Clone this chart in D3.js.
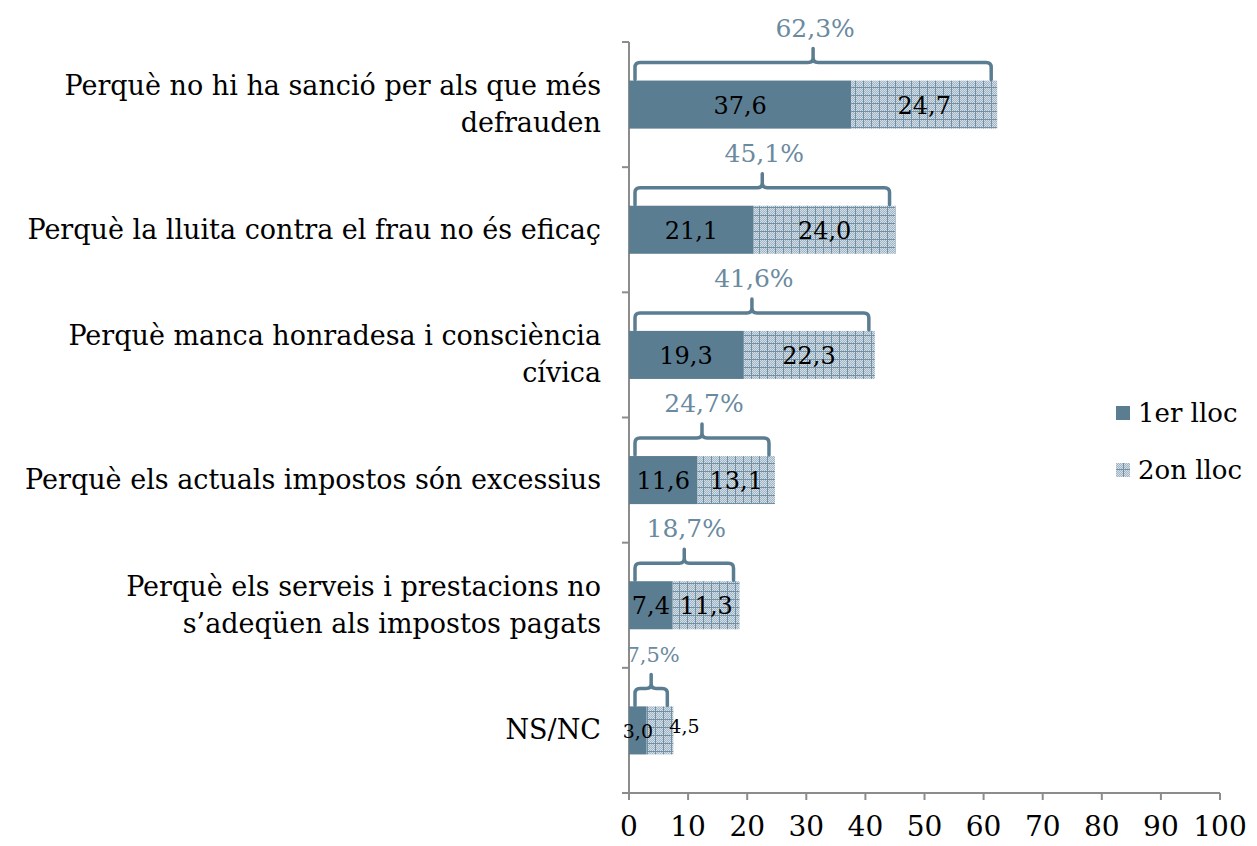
<!DOCTYPE html>
<html>
<head>
<meta charset="utf-8">
<script src="https://cdn.jsdelivr.net/npm/d3@7"></script>
<style>
  body { margin: 0; background: #fff; }
</style>
</head>
<body>
<svg id="chart" width="1257" height="846"></svg>
<script>
// chart data
var categories = [
  ["Perquè no hi ha sanció per als que més", "defrauden"],
  ["Perquè la lluita contra el frau no és eficaç"],
  ["Perquè manca honradesa i consciència", "cívica"],
  ["Perquè els actuals impostos són excessius"],
  ["Perquè els serveis i prestacions no", "s’adeqüen als impostos pagats"],
  ["NS/NC"]
];
var firstPlace = [37.6, 21.1, 19.3, 11.6, 7.4, 3.0];
var secondPlace = [24.7, 24.0, 22.3, 13.1, 11.3, 4.5];
var totals = [62.3, 45.1, 41.6, 24.7, 18.7, 7.5];
var seriesNames = ["1er lloc", "2on lloc"];
var xTicks = [0, 10, 20, 30, 40, 50, 60, 70, 80, 90, 100];

var svg = d3.select("#chart").attr("font-family", "'DejaVu Serif', serif"),
  fmt = function(v) { return v.toFixed(1).replace(".", ","); },
  dark = "#5b7d91",
  labelBlue = "#6a8aa0",
  axisGrey = "#8c8c8c",
  x = d3.scaleLinear().domain([0, 100]).range([629, 1220]),
  y = d3.scaleBand()
    .domain(d3.range(categories.length))
    .range([42, 793])
    .paddingInner(0.616)
    .paddingOuter(0.308),
  defs = svg.append("defs"),
  pat = defs.append("pattern")
    .attr("id", "hatch")
    .attr("patternUnits", "userSpaceOnUse")
    .attr("width", 8)
    .attr("height", 8);

// textured fill for the second series
pat.append("rect").attr("width", 8).attr("height", 8).attr("fill", "#a0b4c3");
d3.range(7).forEach(function(i) {
  d3.range(7).forEach(function(j) {
    if ((i + j) % 2 === 0) {
      pat.append("rect").attr("x", i).attr("y", j).attr("width", 1).attr("height", 1).attr("fill", "#d3dee6");
    }
  });
});
pat.append("rect").attr("x", 7).attr("y", 0).attr("width", 1).attr("height", 8).attr("fill", "#7090a6");
pat.append("rect").attr("x", 0).attr("y", 7).attr("width", 8).attr("height", 1).attr("fill", "#7090a6");

var data = categories.map(function(c, i) {
  return { i: i, label: c, a: firstPlace[i], b: secondPlace[i], total: totals[i] };
});

// axes
var axisG = svg.append("g").attr("stroke", axisGrey).attr("stroke-width", 2).attr("fill", "none");
axisG.append("line").attr("x1", x(0)).attr("x2", x(0)).attr("y1", 42).attr("y2", 793);
axisG.append("line").attr("x1", x(0)).attr("x2", x(100)).attr("y1", 793).attr("y2", 793);
var bounds = d3.range(categories.length + 1).map(function(i) { return 42 + i * y.step(); });
axisG.selectAll(".ytick").data(bounds).enter().append("line")
  .attr("x1", x(0) - 7).attr("x2", x(0)).attr("y1", function(d) { return d; }).attr("y2", function(d) { return d; });
axisG.selectAll(".xtick").data(xTicks).enter().append("line")
  .attr("x1", function(d) { return x(d); }).attr("x2", function(d) { return x(d); })
  .attr("y1", 793).attr("y2", 800);

svg.append("g").selectAll("text").data(xTicks).enter().append("text")
  .attr("x", function(d) { return x(d); })
  .attr("y", 836)
  .attr("text-anchor", "middle")
  .attr("font-size", 28)
  .attr("fill", "#000")
  .text(function(d) { return d; });

// category labels
var catG = svg.append("g");
data.forEach(function(d) {
  var cy = y(d.i) + y.bandwidth() / 2,
    n = d.label.length,
    lh = 37;
  d.label.forEach(function(line, k) {
    catG.append("text")
      .attr("x", 601)
      .attr("y", cy + (k - (n - 1) / 2) * lh + 9)
      .attr("text-anchor", "end")
      .attr("font-size", 27)
      .attr("fill", "#000")
      .text(line);
  });
});

// bars
var bars = svg.append("g");
bars.selectAll(".b1").data(data).enter().append("rect")
  .attr("x", x(0))
  .attr("y", function(d) { return y(d.i); })
  .attr("width", function(d) { return x(d.a) - x(0); })
  .attr("height", y.bandwidth())
  .attr("fill", dark);
bars.selectAll(".b2").data(data).enter().append("rect")
  .attr("x", function(d) { return x(d.a); })
  .attr("y", function(d) { return y(d.i); })
  .attr("width", function(d) { return x(d.a + d.b) - x(d.a); })
  .attr("height", y.bandwidth())
  .attr("fill", "url(#hatch)");

// value labels
data.forEach(function(d) {
  var cy = y(d.i) + y.bandwidth() / 2,
    small = d.a < 5;
  bars.append("text")
    .attr("x", (x(0) + x(d.a)) / 2)
    .attr("y", cy + (small ? 8 : 9))
    .attr("text-anchor", "middle")
    .attr("font-size", small ? 19 : 24)
    .attr("fill", "#000")
    .text(fmt(d.a));
  bars.append("text")
    .attr("x", small ? x(d.a + d.b) - 4 : (x(d.a) + x(d.a + d.b)) / 2)
    .attr("y", cy + (small ? 3 : 9))
    .attr("text-anchor", small ? "start" : "middle")
    .attr("font-size", small ? 19 : 24)
    .attr("fill", "#000")
    .text(fmt(d.b));
});

// curly brackets with totals
var brG = svg.append("g");
data.forEach(function(d) {
  var top = y(d.i),
    x0 = x(0) + 6,
    x1 = x(d.a + d.b) - 6,
    xm = x(d.total / 2),
    hy = top - 18,
    r = 5,
    path = d3.path();
  path.moveTo(x0, top - 1);
  path.lineTo(x0, hy + r);
  path.quadraticCurveTo(x0, hy, x0 + r, hy);
  path.lineTo(xm - r, hy);
  path.quadraticCurveTo(xm, hy, xm, hy - r);
  path.lineTo(xm, top - 32);
  path.moveTo(xm, hy - r);
  path.quadraticCurveTo(xm, hy, xm + r, hy);
  path.lineTo(x1 - r, hy);
  path.quadraticCurveTo(x1, hy, x1, hy + r);
  path.lineTo(x1, top - 1);
  brG.append("path")
    .attr("d", path.toString())
    .attr("fill", "none")
    .attr("stroke", dark)
    .attr("stroke-width", 3.5)
    .attr("stroke-linecap", "round");
  brG.append("text")
    .attr("x", xm + 2)
    .attr("y", top - 44)
    .attr("text-anchor", "middle")
    .attr("font-size", d.total < 10 ? 21 : 25)
    .attr("fill", labelBlue)
    .text(fmt(d.total) + "%");
});

// legend
var legend = svg.append("g").attr("transform", "translate(1116,413)");
seriesNames.forEach(function(name, k) {
  var g = legend.append("g").attr("transform", "translate(0," + (k * 57) + ")");
  g.append("rect").attr("x", 0).attr("y", -7).attr("width", 14).attr("height", 14)
    .attr("fill", k === 0 ? dark : "url(#hatch)");
  g.append("text").attr("x", 22).attr("y", 9).attr("font-size", 26).attr("fill", "#000").text(name);
});
</script>
</body>
</html>
